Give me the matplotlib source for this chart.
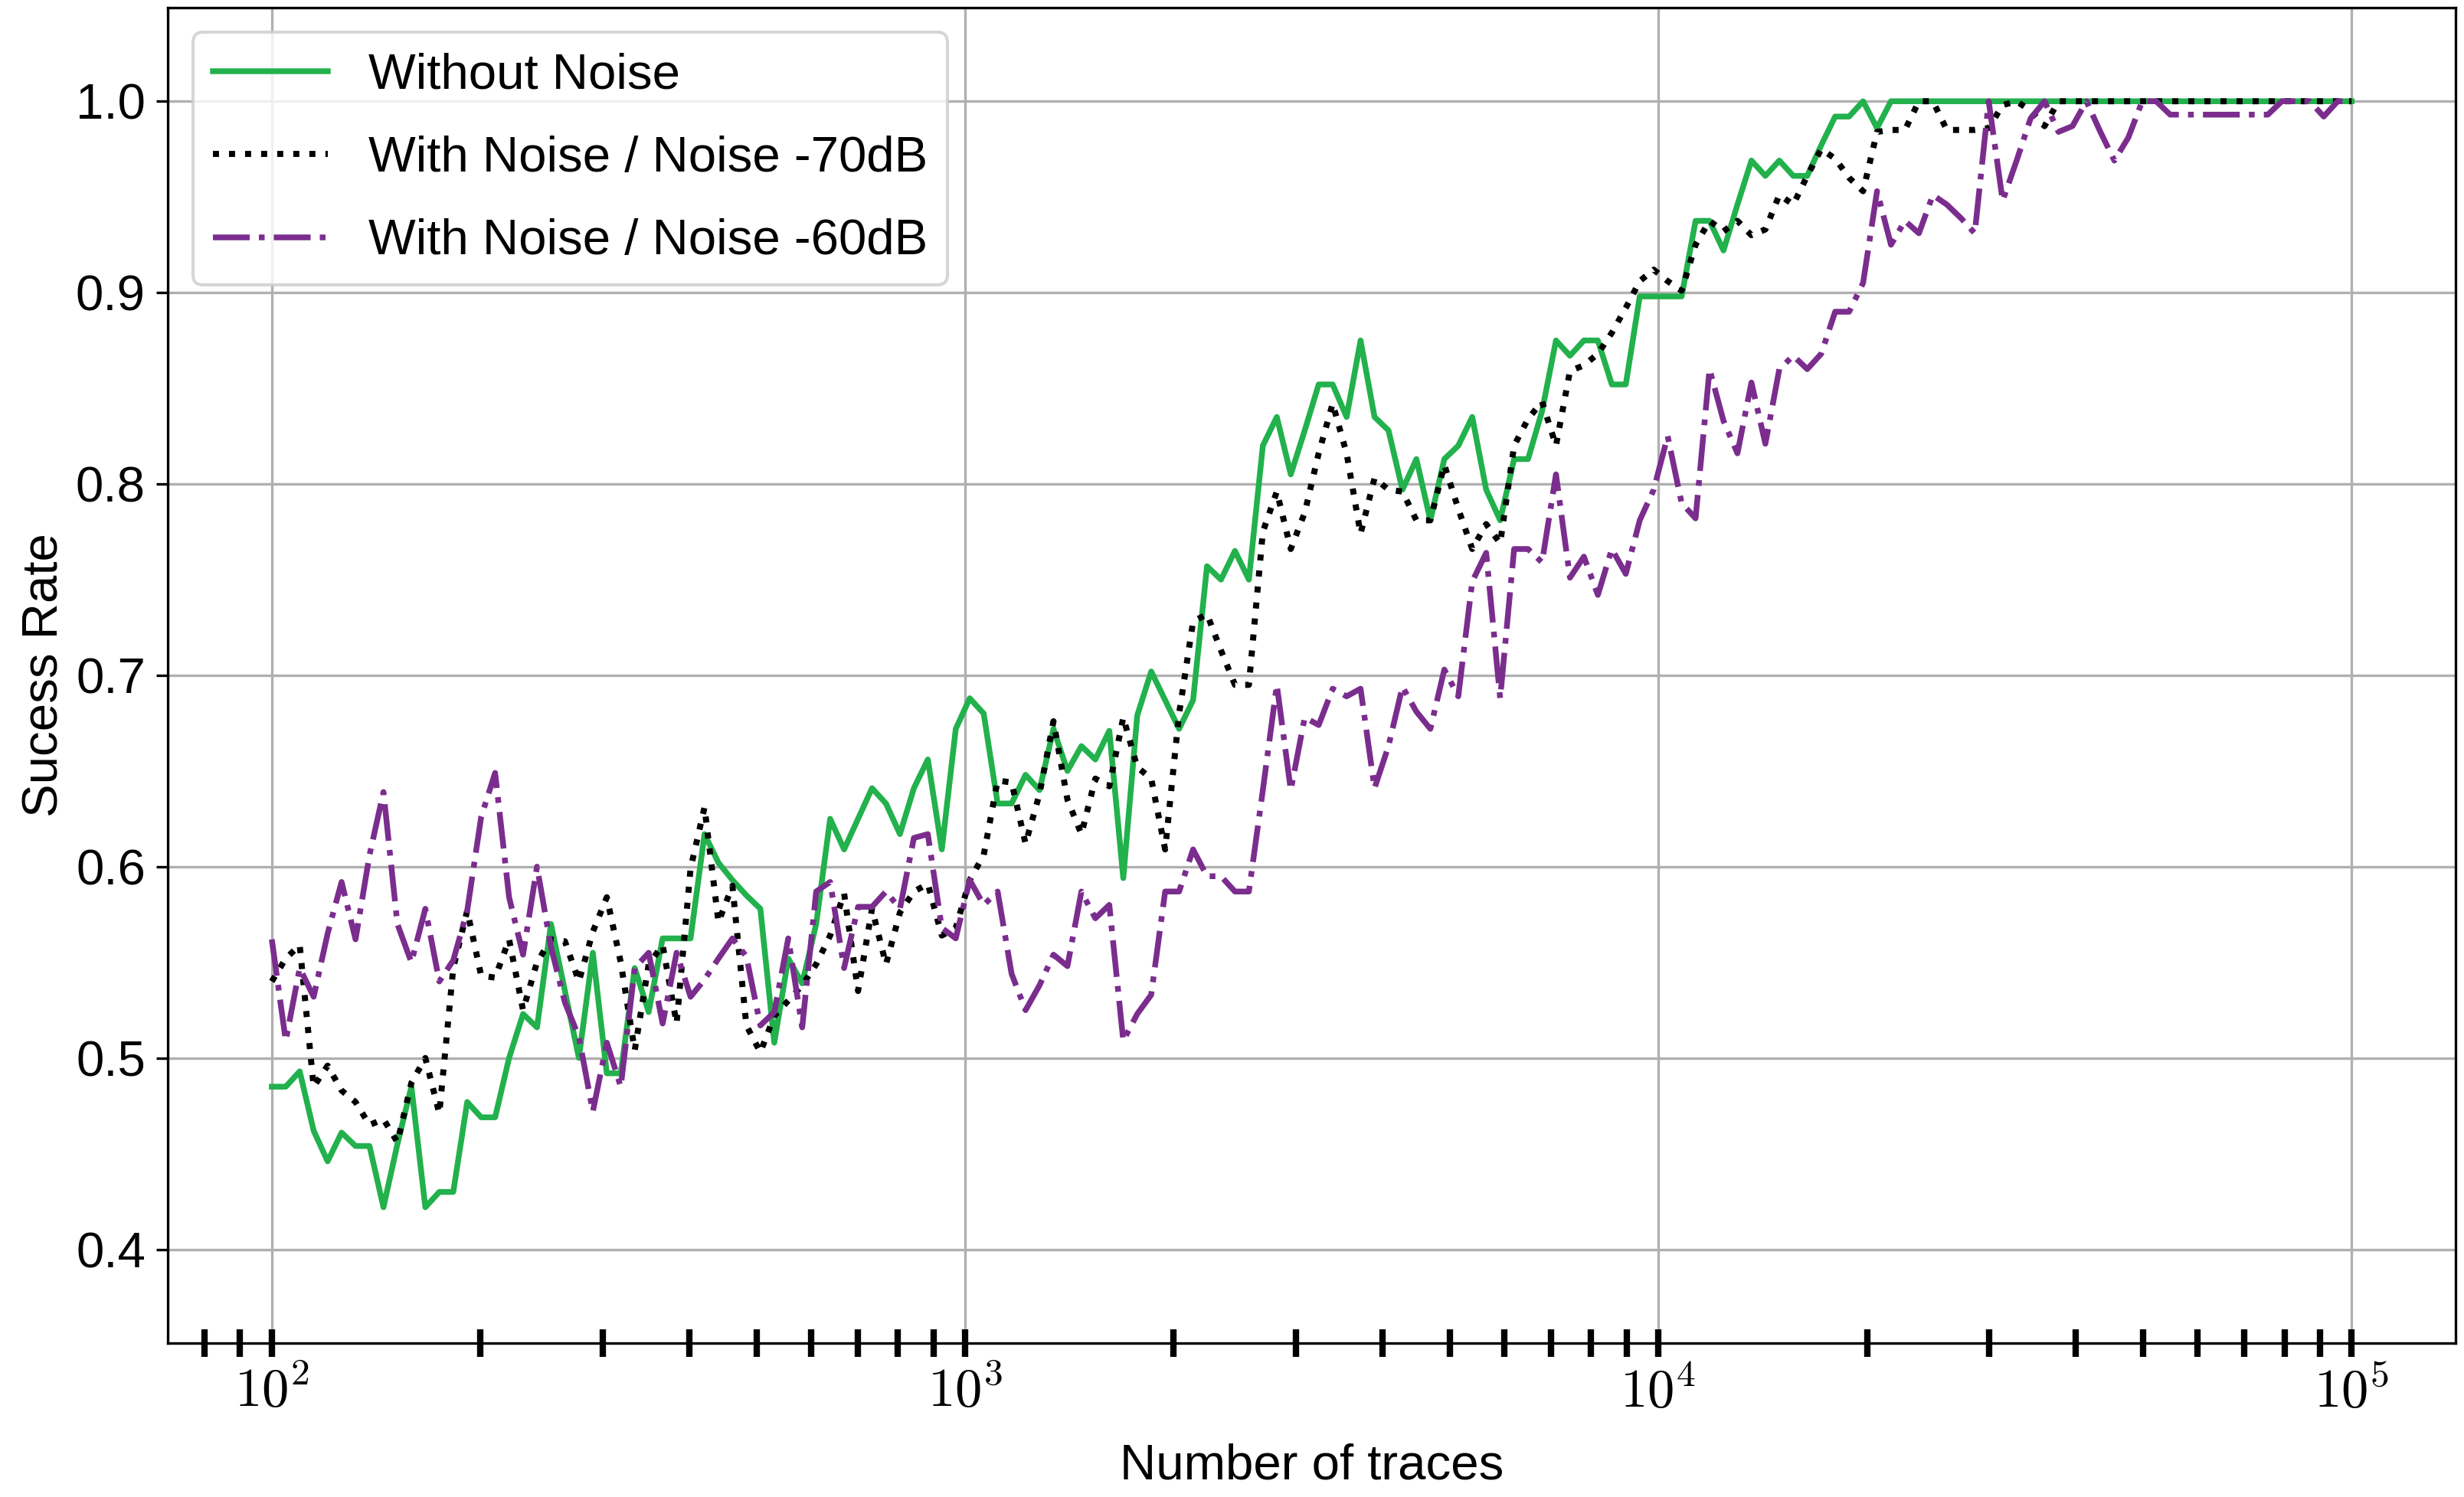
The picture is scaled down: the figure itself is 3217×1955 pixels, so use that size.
import numpy as np
import matplotlib
matplotlib.use('Agg')
import matplotlib.pyplot as plt
from matplotlib import ticker

plt.rcParams['font.family'] = ['Liberation Sans', 'DejaVu Sans']
plt.rcParams['mathtext.fontset'] = 'cm'
plt.rcParams['font.size'] = 15.7

# number of traces: 150 points on a log grid from 1e2 to 1e5
traces = np.logspace(2, 5, 150)

without_noise = [
    0.485, 0.485, 0.493, 0.462, 0.446, 0.461, 0.454, 0.454, 0.422, 0.455,
    0.485, 0.422, 0.430, 0.430, 0.477, 0.469, 0.469, 0.500, 0.523, 0.516,
    0.570, 0.535, 0.500, 0.555, 0.492, 0.492, 0.547, 0.524, 0.5625, 0.5625,
    0.5625, 0.617, 0.602, 0.593, 0.585, 0.578, 0.508, 0.552, 0.539, 0.570,
    0.625, 0.609, 0.625, 0.641, 0.633, 0.617, 0.641, 0.656, 0.609, 0.672,
    0.688, 0.680, 0.633, 0.633, 0.648, 0.640, 0.672, 0.650, 0.663, 0.656,
    0.671, 0.594, 0.679, 0.702, 0.687, 0.672, 0.687, 0.757, 0.750, 0.765,
    0.750, 0.820, 0.835, 0.805, 0.828, 0.852, 0.852, 0.835, 0.875, 0.835,
    0.828, 0.797, 0.813, 0.781, 0.813, 0.820, 0.835, 0.797, 0.781, 0.813,
    0.813, 0.838, 0.875, 0.867, 0.875, 0.875, 0.852, 0.852, 0.898, 0.898,
    0.898, 0.898, 0.9375, 0.9375, 0.922, 0.946, 0.969, 0.961, 0.969, 0.961,
    0.961, 0.977, 0.992, 0.992, 1.0, 0.986, 1.0, 1.0, 1.0, 1.0,
    1.0, 1.0, 1.0, 1.0, 1.0, 1.0, 1.0, 1.0, 1.0, 1.0,
    1.0, 1.0, 1.0, 1.0, 1.0, 1.0, 1.0, 1.0, 1.0, 1.0,
    1.0, 1.0, 1.0, 1.0, 1.0, 1.0, 1.0, 1.0, 1.0, 1.0,
]

noise_70db = [
    0.540, 0.552, 0.559, 0.485, 0.496, 0.483, 0.477, 0.465, 0.468, 0.456,
    0.487, 0.500, 0.471, 0.547, 0.577, 0.543, 0.542, 0.562, 0.525, 0.550,
    0.562, 0.561, 0.540, 0.566, 0.584, 0.550, 0.504, 0.549, 0.559, 0.518,
    0.599, 0.631, 0.571, 0.590, 0.517, 0.503, 0.522, 0.530, 0.538, 0.549,
    0.564, 0.586, 0.535, 0.578, 0.549, 0.576, 0.587, 0.591, 0.564, 0.568,
    0.593, 0.606, 0.645, 0.644, 0.612, 0.638, 0.676, 0.635, 0.617, 0.646,
    0.642, 0.678, 0.652, 0.646, 0.609, 0.680, 0.728, 0.732, 0.713, 0.695,
    0.695, 0.775, 0.796, 0.766, 0.785, 0.816, 0.842, 0.816, 0.774, 0.803,
    0.797, 0.796, 0.781, 0.781, 0.810, 0.787, 0.766, 0.779, 0.769, 0.820,
    0.834, 0.843, 0.820, 0.859, 0.862, 0.868, 0.879, 0.892, 0.906, 0.912,
    0.906, 0.901, 0.925, 0.9375, 0.932, 0.9375, 0.930, 0.933, 0.951, 0.946,
    0.961, 0.975, 0.970, 0.960, 0.953, 0.984, 0.985, 0.985, 1.0, 1.0,
    0.985, 0.985, 0.985, 0.986, 0.998, 1.0, 0.995, 0.987, 1.0, 1.0,
    1.0, 1.0, 1.0, 1.0, 1.0, 1.0, 1.0, 1.0, 1.0, 1.0,
    1.0, 1.0, 1.0, 1.0, 1.0, 1.0, 1.0, 1.0, 1.0, 1.0,
]

noise_60db = [
    0.562, 0.509, 0.547, 0.532, 0.565, 0.592, 0.562, 0.606, 0.639, 0.570,
    0.550, 0.578, 0.540, 0.551, 0.577, 0.626, 0.649, 0.584, 0.554, 0.600,
    0.558, 0.529, 0.511, 0.472, 0.508, 0.485, 0.547, 0.555, 0.518, 0.555,
    0.532, 0.541, 0.552, 0.5625, 0.553, 0.517, 0.524, 0.5625, 0.516, 0.587,
    0.592, 0.547, 0.579, 0.579, 0.587, 0.578, 0.615, 0.617, 0.568, 0.5625,
    0.593, 0.580, 0.587, 0.544, 0.525, 0.538, 0.554, 0.548, 0.587, 0.573,
    0.580, 0.509, 0.523, 0.533, 0.587, 0.587, 0.609, 0.595, 0.595, 0.587,
    0.587, 0.640, 0.695, 0.640, 0.678, 0.674, 0.693, 0.689, 0.693, 0.641,
    0.663, 0.694, 0.681, 0.672, 0.703, 0.689, 0.749, 0.764, 0.688, 0.766,
    0.766, 0.759, 0.805, 0.751, 0.762, 0.742, 0.766, 0.753, 0.781, 0.797,
    0.825, 0.790, 0.782, 0.860, 0.833, 0.816, 0.853, 0.821, 0.860, 0.867,
    0.860, 0.868, 0.890, 0.890, 0.905, 0.953, 0.925, 0.9375, 0.931, 0.951,
    0.946, 0.939, 0.931, 1.0, 0.948, 0.969, 0.991, 1.0, 0.984, 0.987,
    1.0, 0.984, 0.969, 0.981, 1.0, 1.0, 0.993, 0.993, 0.993, 0.993,
    0.993, 0.993, 0.993, 0.993, 1.0, 1.0, 1.0, 0.992, 1.0, 1.0,
]

fig = plt.figure(figsize=(3217 / 300, 1955 / 300), dpi=300)
ax = fig.add_axes([0.0681, 0.1028, 0.9285, 0.8922])

ax.plot(traces, without_noise, color='#22b14c', linestyle='-', linewidth=1.8,
        label='Without Noise')
ax.plot(traces, noise_70db, color='black', linestyle=':', linewidth=1.9,
        label='With Noise / Noise -70dB')
ax.plot(traces, noise_60db, color='#7b2d8e', linestyle='-.', linewidth=1.8,
        label='With Noise / Noise -60dB')

ax.set_xscale('log')
ax.set_ylim(0.351, 1.049)
ax.set_yticks([0.4, 0.5, 0.6, 0.7, 0.8, 0.9, 1.0])
ax.xaxis.set_major_formatter(
    ticker.FuncFormatter(lambda v, p: r'$10^{%d}$' % round(np.log10(v))))
ax.xaxis.set_minor_formatter(ticker.NullFormatter())
ax.tick_params(axis='x', which='both', direction='inout', length=8.5,
               width=2, labelsize=17)
ax.grid(True, which='major')

ax.set_xlabel('Number of traces', labelpad=7.5)
ax.set_ylabel('Sucess Rate', labelpad=2.5)
ax.legend(loc='upper left', handlelength=2.3, labelspacing=0.74)

fig.savefig('out.png', dpi=300)
